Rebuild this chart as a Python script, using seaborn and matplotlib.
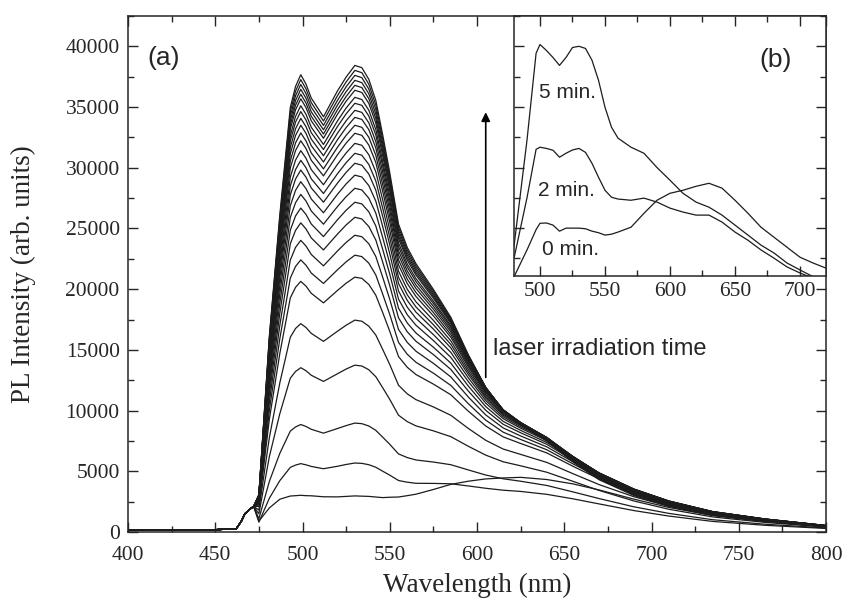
import matplotlib
matplotlib.use("Agg")
import matplotlib.pyplot as plt
from matplotlib.ticker import MultipleLocator
import pandas as pd
import seaborn as sns

# ---- main panel (a): PL spectra, one row per irradiation step ----
wl_edge = [400, 425, 450, 462, 465, 467, 470, 472]
int_edge = [130, 160, 190, 260, 900, 1500, 1900, 2100]

wl_curve = [475, 481, 487, 493, 496, 499, 502, 505, 512, 520, 525, 530, 534, 538, 542, 546, 550,
            555, 560, 565, 575, 585, 595, 605, 615, 625, 640, 655, 670, 690, 710, 735, 765, 800]

pl_01 = [900, 1980, 2700, 2960, 2990, 3020, 2990, 2980, 2900, 2890, 2930, 2970, 2950, 2930, 2880, 2830, 2860, 2880, 2990, 3110, 3500, 3920, 4180, 4370, 4450, 4500, 4320, 3960, 3460, 2700, 2020, 1350, 860, 450]
pl_02 = [810, 2780, 4230, 5320, 5510, 5630, 5530, 5400, 5210, 5410, 5560, 5680, 5650, 5540, 5330, 5000, 4680, 4240, 4100, 4010, 4000, 3970, 3790, 3600, 3440, 3340, 3100, 2730, 2310, 1760, 1310, 870, 550, 290]
pl_03 = [1090, 4170, 6480, 8310, 8650, 8850, 8690, 8460, 8140, 8520, 8760, 8970, 8920, 8730, 8370, 7800, 7220, 6430, 6130, 5930, 5760, 5540, 5110, 4690, 4380, 4180, 3830, 3300, 2750, 2070, 1530, 1010, 640, 330]
pl_04 = [1500, 6210, 9750, 12670, 13220, 13530, 13280, 12910, 12400, 13030, 13420, 13740, 13670, 13360, 12790, 11870, 10920, 9620, 9090, 8740, 8330, 7850, 7060, 6330, 5780, 5450, 4920, 4170, 3420, 2550, 1870, 1240, 790, 400]
pl_05 = [1810, 7780, 12290, 16040, 16760, 17160, 16840, 16360, 15700, 16530, 17030, 17450, 17360, 16950, 16220, 15020, 13790, 12090, 11380, 10900, 10300, 9610, 8530, 7550, 6830, 6390, 5730, 4800, 3900, 2900, 2120, 1400, 890, 450]
pl_06 = [2110, 9290, 14710, 19280, 20150, 20640, 20250, 19660, 18870, 19890, 20490, 20990, 20890, 20390, 19500, 18050, 16530, 14450, 13570, 12970, 12180, 11300, 9950, 8730, 7830, 7290, 6510, 5410, 4370, 3230, 2350, 1560, 990, 500]
pl_07 = [2240, 10030, 15930, 20910, 21870, 22410, 21970, 21330, 20470, 21590, 22250, 22800, 22680, 22140, 21170, 19570, 17910, 15620, 14640, 13980, 13080, 12070, 10570, 9210, 8220, 7620, 6770, 5610, 4500, 3310, 2410, 1590, 1010, 510]
pl_08 = [2350, 10710, 17030, 22400, 23440, 24020, 23550, 22860, 21920, 23140, 23850, 24440, 24320, 23740, 22690, 20960, 19160, 16680, 15620, 14890, 13890, 12770, 11120, 9640, 8570, 7910, 7010, 5780, 4620, 3390, 2460, 1630, 1030, 520]
pl_09 = [2460, 11310, 18020, 23740, 24840, 25460, 24960, 24220, 23230, 24530, 25290, 25920, 25780, 25160, 24050, 22210, 20290, 17640, 16490, 15710, 14610, 13390, 11610, 10020, 8870, 8170, 7220, 5920, 4710, 3450, 2500, 1650, 1050, 530]
pl_10 = [2540, 11810, 18850, 24860, 26030, 26680, 26150, 25370, 24330, 25710, 26500, 27160, 27020, 26370, 25200, 23260, 21230, 18440, 17220, 16390, 15220, 13910, 12020, 10330, 9110, 8370, 7370, 6030, 4780, 3490, 2530, 1670, 1060, 530]
pl_11 = [2620, 12280, 19620, 25910, 27120, 27800, 27260, 26440, 25350, 26800, 27620, 28310, 28170, 27490, 26260, 24230, 22110, 19180, 17900, 17030, 15770, 14380, 12390, 10610, 9330, 8550, 7520, 6120, 4840, 3530, 2550, 1680, 1070, 530]
pl_12 = [2680, 12710, 20320, 26870, 28140, 28850, 28280, 27430, 26290, 27810, 28670, 29390, 29240, 28530, 27250, 25130, 22910, 19850, 18520, 17600, 16260, 14790, 12700, 10830, 9480, 8670, 7600, 6170, 4860, 3530, 2550, 1680, 1070, 530]
pl_13 = [2740, 13100, 20970, 27760, 29070, 29810, 29220, 28340, 27160, 28730, 29620, 30370, 30210, 29480, 28150, 25960, 23650, 20470, 19080, 18110, 16710, 15160, 12970, 11020, 9610, 8770, 7670, 6200, 4860, 3520, 2540, 1670, 1070, 530]
pl_14 = [2780, 13420, 21500, 28500, 29850, 30610, 30000, 29090, 27880, 29500, 30420, 31190, 31030, 30270, 28910, 26640, 24260, 20980, 19540, 18540, 17070, 15450, 13180, 11160, 9710, 8830, 7700, 6200, 4850, 3500, 2520, 1660, 1060, 520]
pl_15 = [2830, 13740, 22040, 29230, 30630, 31410, 30780, 29850, 28600, 30280, 31220, 32010, 31850, 31070, 29660, 27330, 24870, 21490, 20000, 18960, 17430, 15740, 13390, 11300, 9800, 8890, 7740, 6210, 4840, 3480, 2510, 1650, 1050, 520]
pl_16 = [2870, 14060, 22580, 29980, 31420, 32220, 31580, 30620, 29330, 31060, 32030, 32840, 32670, 31870, 30430, 28030, 25500, 22010, 20470, 19400, 17800, 16040, 13600, 11440, 9890, 8950, 7780, 6220, 4830, 3470, 2490, 1640, 1040, 510]
pl_17 = [2900, 14310, 23010, 30570, 32050, 32870, 32210, 31220, 29910, 31680, 32670, 33500, 33330, 32510, 31030, 28580, 25990, 22420, 20830, 19730, 18080, 16260, 13750, 11530, 9940, 8980, 7780, 6200, 4800, 3440, 2460, 1620, 1030, 510]
pl_18 = [2930, 14560, 23430, 31160, 32660, 33500, 32830, 31820, 30480, 32300, 33310, 34150, 33980, 33140, 31630, 29120, 26470, 22820, 21190, 20060, 18350, 16480, 13900, 11620, 9990, 9000, 7780, 6180, 4770, 3400, 2440, 1600, 1020, 500]
pl_19 = [2960, 14780, 23800, 31680, 33210, 34070, 33380, 32360, 30990, 32840, 33870, 34730, 34560, 33700, 32160, 29610, 26900, 23170, 21500, 20340, 18590, 16660, 14010, 11690, 10010, 9010, 7770, 6150, 4730, 3370, 2410, 1580, 1010, 490]
pl_20 = [2980, 15000, 24170, 32200, 33760, 34630, 33930, 32890, 31500, 33390, 34440, 35310, 35140, 34260, 32700, 30090, 27320, 23520, 21820, 20630, 18820, 16840, 14130, 11750, 10040, 9010, 7760, 6120, 4690, 3330, 2380, 1560, 1000, 490]
pl_21 = [3000, 15180, 24480, 32640, 34230, 35110, 34400, 33340, 31920, 33850, 34920, 35800, 35620, 34740, 33150, 30500, 27680, 23820, 22080, 20870, 19010, 16980, 14220, 11790, 10050, 9000, 7730, 6070, 4640, 3290, 2340, 1540, 980, 480]
pl_22 = [3020, 15400, 24860, 33160, 34770, 35680, 34950, 33870, 32430, 34400, 35480, 36380, 36200, 35300, 33680, 30980, 28110, 24170, 22390, 21160, 19250, 17160, 14340, 11850, 10070, 9010, 7720, 6040, 4600, 3250, 2310, 1520, 970, 470]
pl_23 = [3030, 15550, 25110, 33510, 35150, 36060, 35330, 34240, 32780, 34770, 35870, 36790, 36600, 35690, 34050, 31310, 28400, 24400, 22600, 21340, 19390, 17260, 14390, 11860, 10060, 8970, 7670, 5990, 4540, 3200, 2270, 1490, 950, 460]
pl_24 = [3040, 15700, 25360, 33880, 35540, 36460, 35720, 34610, 33130, 35160, 36270, 37200, 37010, 36090, 34420, 31650, 28700, 24640, 22810, 21530, 19540, 17370, 14440, 11880, 10040, 8940, 7630, 5930, 4480, 3150, 2230, 1460, 940, 450]
pl_25 = [3050, 15840, 25620, 34240, 35930, 36860, 36110, 34990, 33490, 35540, 36670, 37610, 37420, 36480, 34800, 31990, 29000, 24880, 23020, 21720, 19690, 17470, 14500, 11890, 10020, 8900, 7580, 5880, 4420, 3100, 2190, 1440, 920, 440]
pl_26 = [3060, 15990, 25880, 34610, 36310, 37260, 36500, 35370, 33850, 35930, 37070, 38020, 37830, 36880, 35170, 32330, 29290, 25120, 23230, 21910, 19840, 17570, 14550, 11900, 10010, 8870, 7540, 5820, 4360, 3050, 2150, 1410, 900, 430]
pl_27 = [3070, 16140, 26130, 34970, 36700, 37660, 36890, 35740, 34200, 36320, 37470, 38430, 38240, 37280, 35550, 32670, 29590, 25360, 23440, 22100, 19980, 17680, 14600, 11910, 9990, 8840, 7490, 5770, 4300, 3000, 2110, 1380, 880, 420]

main_spectra = [pl_01, pl_02, pl_03, pl_04, pl_05, pl_06, pl_07, pl_08, pl_09,
                pl_10, pl_11, pl_12, pl_13, pl_14, pl_15, pl_16, pl_17, pl_18,
                pl_19, pl_20, pl_21, pl_22, pl_23, pl_24, pl_25, pl_26, pl_27]

# ---- inset (b): normalised spectra at 0, 2 and 5 min ----
wl_inset = [480, 490, 497, 500, 505, 510, 515, 520, 525, 530, 535, 540, 545, 550, 555, 560,
            570, 580, 590, 600, 610, 620, 630, 640, 650, 660, 670, 680, 690, 700, 710, 720]
inset_0min = [0.39, 1.28, 1.95, 2.16, 2.17, 2.10, 1.90, 2.00, 2.00, 2.00, 1.98, 1.90, 1.85, 1.77, 1.80, 1.87,
              2.03, 2.49, 2.92, 3.15, 3.25, 3.38, 3.48, 3.32, 2.92, 2.49, 2.03, 1.70, 1.37, 1.04, 0.85, 0.68]
inset_2min = [1.00, 3.00, 4.60, 4.67, 4.63, 4.57, 4.34, 4.47, 4.58, 4.63, 4.50, 4.14, 3.68, 3.25, 3.02, 2.96,
              2.92, 2.99, 2.86, 2.66, 2.53, 2.43, 2.43, 2.20, 1.87, 1.60, 1.28, 1.01, 0.72, 0.52, 0.35, 0.20]
inset_5min = [1.40, 4.90, 7.77, 8.06, 7.86, 7.63, 7.37, 7.63, 7.96, 8.00, 7.93, 7.54, 6.88, 5.99, 5.33, 4.97,
              4.67, 4.47, 4.00, 3.58, 3.15, 2.86, 2.69, 2.43, 2.10, 1.77, 1.44, 1.18, 0.85, 0.62, 0.40, 0.20]
inset_labels = ["0 min.", "2 min.", "5 min."]

sns.set_style("ticks")
plt.rcParams['font.family'] = ['Liberation Serif', 'DejaVu Serif']

# long-format frames for seaborn
rows = []
for k, spec in enumerate(main_spectra):
    assert len(spec) == len(wl_curve)
    for w, v in zip(wl_edge + wl_curve, int_edge + spec):
        rows.append({"curve": k, "wavelength": w, "intensity": v})
df_main = pd.DataFrame(rows)

rows = []
for lab, spec in zip(inset_labels, [inset_0min, inset_2min, inset_5min]):
    for w, v in zip(wl_inset, spec):
        rows.append({"curve": lab, "wavelength": w, "intensity": v})
df_inset = pd.DataFrame(rows)

fig = plt.figure(figsize=(8.49, 5.99), dpi=100)
ax = fig.add_axes([0.1508, 0.1119, 0.8221, 0.8614])

sns.lineplot(data=df_main, x="wavelength", y="intensity", units="curve", estimator=None,
             sort=False, color="#1c1c1c", lw=0.9, ax=ax, legend=False)

ax.set_xlim(400, 800)
ax.set_ylim(0, 42500)
ax.xaxis.set_major_locator(MultipleLocator(50))
ax.xaxis.set_minor_locator(MultipleLocator(25))
ax.yaxis.set_major_locator(MultipleLocator(5000))
ax.yaxis.set_minor_locator(MultipleLocator(2500))
ax.tick_params(which='both', direction='in', top=True, right=True, width=1.0, labelsize=15.5)
ax.tick_params(axis='x', pad=10)
ax.tick_params(axis='y', pad=6)
ax.tick_params(which='major', length=7)
ax.tick_params(which='minor', length=4)
for sp in ax.spines.values():
    sp.set_linewidth(1.1)
ax.set_xlabel("Wavelength (nm)", fontsize=19.5, labelpad=6)
ax.set_ylabel("PL Intensity (arb. units)", fontsize=19.5, labelpad=21)

ax.text(411, 39000, "(a)", family='Liberation Sans', fontsize=19, ha='left', va='center')
ax.annotate("", xy=(605, 34800), xytext=(605, 12500),
            arrowprops=dict(arrowstyle='-|>', color='k', lw=1.2, mutation_scale=13))
ax.text(609, 15100, "laser irradiation time", family='Liberation Sans', fontsize=17,
        ha='left', va='center')

# inset
axi = fig.add_axes([0.6054, 0.5392, 0.3675, 0.4341])
sns.lineplot(data=df_inset, x="wavelength", y="intensity", units="curve", estimator=None,
             sort=False, color="#1c1c1c", lw=0.9, ax=axi, legend=False)
axi.set_xlim(480, 720)
axi.set_ylim(0.42, 9.0)
axi.xaxis.set_major_locator(MultipleLocator(50))
axi.xaxis.set_minor_locator(MultipleLocator(25))
axi.yaxis.set_major_locator(MultipleLocator(2))
axi.yaxis.set_minor_locator(MultipleLocator(1))
axi.tick_params(which='both', direction='in', top=True, right=True, width=1.0,
                labelsize=15.5, labelleft=False, pad=4)
axi.tick_params(which='major', length=7)
axi.tick_params(which='minor', length=4)
for sp in axi.spines.values():
    sp.set_linewidth(1.1)
axi.set_xlabel("")
axi.set_ylabel("")
axi.text(669, 7.54, "(b)", family='Liberation Sans', fontsize=19, ha='left', va='center')
axi.text(499, 6.48, "5 min.", family='Liberation Sans', fontsize=15, ha='left', va='center')
axi.text(498.5, 3.25, "2 min.", family='Liberation Sans', fontsize=15, ha='left', va='center')
axi.text(501.5, 1.28, "0 min.", family='Liberation Sans', fontsize=15, ha='left', va='center')

fig.savefig("out.png", dpi=100)
